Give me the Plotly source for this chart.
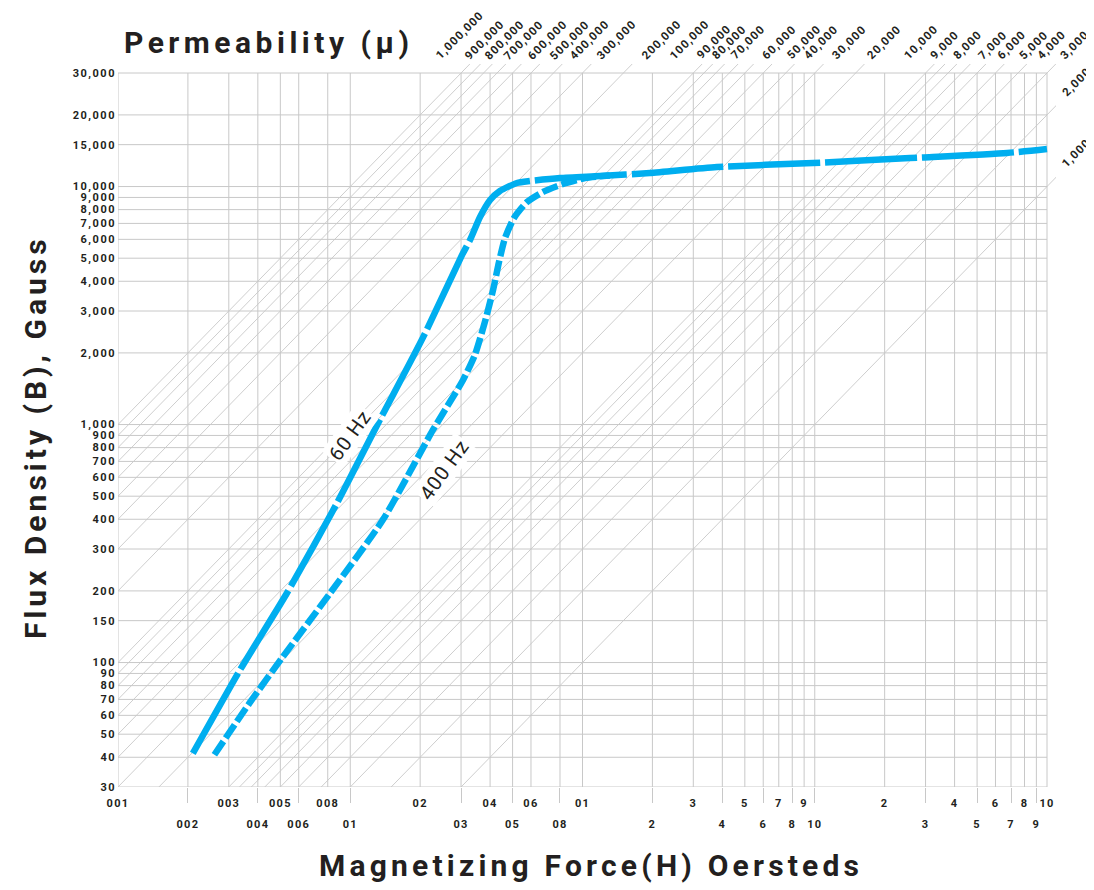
import math
import plotly.graph_objects as go

# ---------------- data ----------------
# 60 Hz curve: magnetizing force H (oersteds) vs flux density B (gauss)
H_60 = [0.0021, 0.00335, 0.00534, 0.00877, 0.0134, 0.0206, 0.0303, 0.0328, 0.0362,
        0.0400, 0.0441, 0.0522, 0.0594, 0.080, 0.119, 0.195, 0.379, 0.983, 2.57, 6.73, 10]
B_60 = [41.5, 93, 196, 468, 1045, 2330, 5160, 5970, 7450,
        8780, 9580, 10350, 10550, 10860, 11080, 11400, 12080, 12560, 13180, 13840, 14380]

# 400 Hz curve
H_400 = [0.0026, 0.0037, 0.0051, 0.0082, 0.0138, 0.0227, 0.0306, 0.0344, 0.0380,
         0.0412, 0.0437, 0.0464, 0.0507, 0.0577, 0.0676, 0.0824, 0.1025, 0.131]
B_400 = [41, 68, 105, 196, 397, 949, 1540, 1960, 2700,
         3675, 4820, 6080, 7380, 8610, 9490, 10250, 10860, 11130]

# permeability (mu) reference lines  B = mu * H
MU = [1000000, 900000, 800000, 700000, 600000, 500000, 400000, 300000, 200000,
      100000, 90000, 80000, 70000, 60000, 50000, 40000, 30000, 20000,
      10000, 9000, 8000, 7000, 6000, 5000, 4000, 3000, 2000, 1000]
MU_TXT = [f"{m:,}" for m in MU]

# grid values
GRID_H = [0.001, 0.002, 0.003, 0.004, 0.005, 0.006, 0.008,
          0.01, 0.02, 0.03, 0.04, 0.05, 0.06, 0.08,
          0.1, 0.2, 0.3, 0.4, 0.5, 0.6, 0.7, 0.8, 0.9,
          1, 2, 3, 4, 5, 6, 7, 8, 9, 10]
GRID_B = [30, 40, 50, 60, 70, 80, 90, 100, 150, 200, 300, 400, 500, 600, 700, 800, 900,
          1000, 2000, 3000, 4000, 5000, 6000, 7000, 8000, 9000, 10000, 15000, 20000, 30000]
Y_TXT = [f"{v:,}" for v in GRID_B]

# x tick labels, two staggered rows
ROW1_H = [0.001, 0.003, 0.005, 0.008, 0.02, 0.04, 0.06, 0.1, 0.3, 0.5, 0.7, 0.9, 2, 4, 6, 8, 10]
ROW1_TXT = ["001", "003", "005", "008", "02", "04", "06", "01", "3", "5", "7", "9",
            "2", "4", "6", "8", "10"]
ROW2_H = [0.002, 0.004, 0.006, 0.01, 0.03, 0.05, 0.08, 0.2, 0.4, 0.6, 0.8, 1, 3, 5, 7, 9]
ROW2_TXT = ["002", "004", "006", "01", "03", "05", "08", "2", "4", "6", "8", "10",
            "3", "5", "7", "9"]

# ---------------- styling ----------------
CURVE = "#00AEEF"
GRID = "#c8c8c8"
INK = "#231f20"
FONT = "Roboto"
H_MIN, H_MAX = 0.001, 10
B_MIN, B_MAX = 30, 30000
X_RANGE = [math.log10(H_MIN), math.log10(H_MAX) + 9 / 232.25]
Y_RANGE = [math.log10(B_MIN), math.log10(B_MAX) + 9 / 238]
# pixel nudges that spread the crowded permeability labels (one per mu)
MU_NUDGE = [-24, -6, 2, 8, 16, 20, 17, 15, 19, -23, -6, -2, 3, 19, 25, 20, 19, 13,
            -20, -5, 6, 18, 21, 25, 20, 14, 16, 16]


def spaced(t, px):
    return f'<span style="letter-spacing:{px}px">{t}</span>'


tickfont = dict(family=FONT, size=11, color=INK, weight="bold")

fig = go.Figure()

# vertical grid
gx, gy = [], []
for h in GRID_H:
    gx += [h, h, None]
    gy += [B_MIN, B_MAX, None]
fig.add_trace(go.Scatter(x=gx, y=gy, mode="lines", line=dict(color=GRID, width=1),
                         hoverinfo="skip", showlegend=False))
# horizontal grid
gx, gy = [], []
for b in GRID_B:
    gx += [H_MIN, H_MAX, None]
    gy += [b, b, None]
fig.add_trace(go.Scatter(x=gx, y=gy, mode="lines", line=dict(color=GRID, width=1),
                         hoverinfo="skip", showlegend=False))
# permeability diagonals
dx, dy = [], []
for m in MU:
    h0 = B_MIN / m
    h1 = 100.0
    dx += [h0, h1, None]
    dy += [B_MIN, m * h1, None]
fig.add_trace(go.Scatter(x=dx, y=dy, mode="lines", line=dict(color=GRID, width=0.9),
                         hoverinfo="skip", showlegend=False))

# curves
fig.add_trace(go.Scatter(x=H_60, y=B_60, mode="lines", name="60 Hz",
                         line=dict(color=CURVE, width=6.5, dash="92px,5px", shape="spline",
                                   smoothing=0.6),
                         hoverinfo="skip", showlegend=False))
fig.add_trace(go.Scatter(x=H_400, y=B_400, mode="lines", name="400 Hz", xaxis="x2",
                         line=dict(color=CURVE, width=6.5, dash="16px,4px", shape="spline",
                                   smoothing=0.6),
                         hoverinfo="skip", showlegend=False))

annotations = []
# permeability labels
for m, txt, nudge in zip(MU, MU_TXT, MU_NUDGE):
    if B_MAX / m <= H_MAX:
        ax, ay, ysh = B_MAX / m, B_MAX, 8
    else:
        ax, ay, ysh = H_MAX, m * H_MAX, 13
    annotations.append(dict(x=math.log10(ax), y=math.log10(ay), xref="x", yref="y",
                            text=spaced(txt, 1.1), showarrow=False, textangle=-45,
                            xanchor="left", yanchor="bottom", xshift=nudge - 7, yshift=ysh,
                            borderpad=1,
                            font=dict(family=FONT, size=11.5, color=INK, weight="bold")))

# curve labels
for txt, h, b in [("60 Hz", 0.0100, 900), ("400 Hz", 0.02534, 644)]:
    annotations.append(dict(x=math.log10(h), y=math.log10(b), xref="x", yref="y",
                            text=spaced(txt, 1), showarrow=False, textangle=-54,
                            xanchor="center", yanchor="middle",
                            bgcolor="white", borderpad=1,
                            font=dict(family=FONT, size=20, color=INK)))

# titles
title_font = dict(family=FONT, size=30, color=INK, weight="bold")
annotations.append(dict(x=0.161, y=1.030, xref="paper", yref="paper",
                        xanchor="center", yanchor="middle", borderpad=3,
                        text=spaced("Permeability (μ)", 4.5), showarrow=False, font=title_font))
annotations.append(dict(x=0.504, y=-0.109, xref="paper", yref="paper",
                        xanchor="center", yanchor="middle", borderpad=3,
                        text=spaced("Magnetizing Force(H) Oersteds", 4.2), showarrow=False,
                        font=title_font))
annotations.append(dict(x=-0.0885, y=0.484, xref="paper", yref="paper", textangle=-90,
                        xanchor="center", yanchor="middle", borderpad=3,
                        text=spaced("Flux Density (B), Gauss", 4), showarrow=False,
                        font=title_font))

fig.update_layout(
    width=1086, height=882,
    margin=dict(l=110, r=38, t=56, b=103),
    paper_bgcolor="white", plot_bgcolor="white",
    showlegend=False,
    xaxis=dict(type="log", range=X_RANGE, tickvals=ROW1_H,
               ticktext=[spaced(t, 1.3) for t in ROW1_TXT], ticks="",
               showgrid=False, zeroline=False, showline=False, tickfont=tickfont,
               automargin=False, ticklabelstandoff=8, fixedrange=True),
    xaxis2=dict(type="log", range=X_RANGE, overlaying="x", anchor="y", side="bottom",
                tickvals=ROW2_H, ticktext=[spaced(t, 1.3) for t in ROW2_TXT],
                ticks="outside", ticklen=15, tickwidth=1, tickcolor=GRID,
                showgrid=False, zeroline=False, showline=False, tickfont=tickfont,
                automargin=False, ticklabelstandoff=12, fixedrange=True),
    yaxis=dict(type="log", range=Y_RANGE, tickvals=GRID_B,
               ticktext=[spaced(t, 1.5) for t in Y_TXT], ticks="",
               showgrid=False, zeroline=False, showline=False, tickfont=tickfont,
               automargin=False, ticklabelstandoff=1, fixedrange=True),
    annotations=annotations,
)

fig.write_html("out.html")
